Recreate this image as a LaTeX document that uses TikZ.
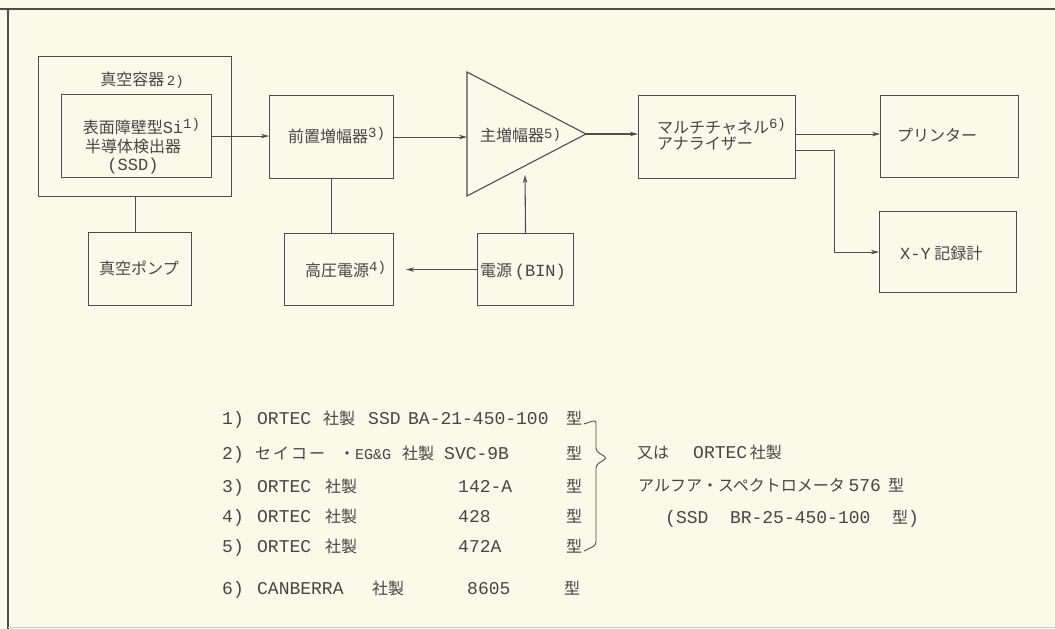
\documentclass[tikz,border=0pt]{standalone}
\usepackage{fontspec}
\setmainfont{Noto Sans CJK JP}
\newfontfamily\monofam{Liberation Mono}
\usetikzlibrary{arrows.meta,calc}
\definecolor{bgc}{RGB}{251,249,234}
\definecolor{ink}{RGB}{78,78,72}
\definecolor{txt}{RGB}{70,70,66}
\newcommand\lat[1]{{\monofam\fontsize{17}{17}\selectfont #1}}
\newcommand\latl[1]{{\monofam\fontsize{18}{18}\selectfont #1}}
\newcommand\sml[1]{{\monofam\fontsize{14}{14}\selectfont #1}}
\newcommand\supr[1]{\raisebox{5pt}{\sml{#1}}}
\newcommand\putat[2]{\makebox[0pt][l]{\hspace*{#1}#2}}
\begin{document}
\begin{tikzpicture}[x=1pt,y=-1pt,
  box/.style={draw=ink,line width=1.1pt,inner sep=0pt},
  lbl/.style={text=txt,inner sep=0pt,font=\fontsize{16}{19}\selectfont,text height=13pt,text depth=1pt},
  arr/.style={draw=ink,line width=1.1pt,-{Stealth[length=8pt,width=4.5pt]}},
  ln/.style={draw=ink,line width=1.1pt}]
\useasboundingbox (0,0) rectangle (1055,629);
\fill[bgc] (0,0) rectangle (1055,629);
% frame
\draw[ln] (0,9) -- (1055,9);
\draw[ln] (8,9) -- (8,629);
\draw[draw=ink!30,line width=0.8pt] (8,627) -- (1055,627);
% boxes
\node[box,anchor=north west,minimum width=193pt,minimum height=140pt] (vac) at (38,56) {};
\node[box,anchor=north west,minimum width=150pt,minimum height=83pt] (ssd) at (61,94) {};
\node[box,anchor=north west,minimum width=103pt,minimum height=73pt] (pump) at (88,232) {};
\node[box,anchor=north west,minimum width=124pt,minimum height=83pt] (pre) at (269,95) {};
\node[box,anchor=north west,minimum width=109pt,minimum height=72pt] (hv) at (284,233) {};
\node[box,anchor=north west,minimum width=96pt,minimum height=72pt] (bin) at (477,233) {};
\node[box,anchor=north west,minimum width=157pt,minimum height=83pt] (mca) at (638,95) {};
\node[box,anchor=north west,minimum width=138pt,minimum height=82pt] (prn) at (880,95) {};
\node[box,anchor=north west,minimum width=137pt,minimum height=81pt] (xy) at (879,211) {};
% triangle (main amplifier)
\coordinate (tl) at (467,72);
\coordinate (ta) at (586,134);
\coordinate (tb) at (467,196);
\draw[ln,line join=miter] (tl) -- (ta) -- (tb) -- cycle;
% labels
\node[lbl] (vact) at (142,79) {真空容器\,\sml{2)}};
\node[lbl] (ssd1) at (133,127) {表面障壁型\lat{Si}\rlap{\supr{1)}}};
\node[lbl] (ssd2) at (133,146) {半導体検出器};
\node[lbl] (ssd3) at (133,164) {\lat{(SSD)}};
\node[lbl] (pumpt) at (139,268) {真空ポンプ};
\node[lbl,anchor=west] (pret) at (288,136) {前置増幅器\supr{3)}};
\node[lbl,anchor=west] (ampt) at (480,135) {主増幅器\raisebox{3pt}{\sml{5)}}};
\node[lbl,anchor=west] (hvt) at (305,270) {高圧電源\supr{4)}};
\node[lbl,anchor=west] (bint) at (480,270) {電源\,\lat{(BIN)}};
\node[lbl,anchor=west] (mca1) at (657,127) {マルチチャネル\supr{6)}};
\node[lbl,anchor=west] (mca2) at (657,143) {アナライザー};
\node[lbl,anchor=west] (prnt) at (897,135) {プリンター};
\node[lbl,anchor=west] (xyt) at (900,253) {\lat{X-Y}\ 記録計};
% connectors
\draw[arr] (ssd.east) -- (ssd.east -| pre.west);
\draw[ln] (vac.south) -- (vac.south |- pump.north);
\draw[arr] (pre.east) -- (pre.east -| tl);
\draw[ln] (pre.south) -- (pre.south |- hv.north);
\coordinate (ampin) at (525,175);
\draw[arr] (bin.north) -- (ampin);
\draw[arr] (bin.west) -- ([xshift=12pt]hv.east |- bin.west);
\draw[arr] (ta) -- (ta -| mca.west);
\draw[arr] ([yshift=3pt]mca.east) -- ([yshift=3pt]mca.east -| prn.west);
\draw[arr] ([yshift=-13pt]mca.east) -- ++(38,0) |- (xy.west);
% parts list
\node[lbl,anchor=west] (l1) at (222,418) {\putat{0pt}{\latl{1)}}\putat{35pt}{\latl{ORTEC}}\putat{101pt}{社製}\putat{146pt}{\latl{SSD}}\putat{186pt}{\latl{BA-21-450-100}}\putat{344pt}{型}\hspace*{360pt}};
\node[lbl,anchor=west] (l2) at (222,453) {\putat{0pt}{\latl{2)}}\putat{33pt}{セ\kern2ptイ\kern2ptコ\kern2ptー}\putat{117pt}{・}\putat{133pt}{{\monofam\fontsize{15}{15}\selectfont EG\&G}}\putat{180pt}{社製}\putat{222pt}{\latl{SVC-9B}}\putat{344pt}{型}\hspace*{360pt}};
\node[lbl,anchor=west] (l3) at (222,486) {\putat{0pt}{\latl{3)}}\putat{35pt}{\latl{ORTEC}}\putat{103pt}{社製}\putat{236pt}{\latl{142-A}}\putat{344pt}{型}\hspace*{360pt}};
\node[lbl,anchor=west] (l4) at (222,516) {\putat{0pt}{\latl{4)}}\putat{35pt}{\latl{ORTEC}}\putat{103pt}{社製}\putat{236pt}{\latl{428}}\putat{344pt}{型}\hspace*{360pt}};
\node[lbl,anchor=west] (l5) at (222,546) {\putat{0pt}{\latl{5)}}\putat{35pt}{\latl{ORTEC}}\putat{103pt}{社製}\putat{236pt}{\latl{472A}}\putat{344pt}{型}\hspace*{360pt}};
\node[lbl,anchor=west] (l6) at (222,588) {\putat{0pt}{\latl{6)}}\putat{35pt}{\latl{CANBERRA}}\putat{150pt}{社製}\putat{245pt}{\latl{8605}}\putat{342pt}{型}\hspace*{360pt}};
% brace
\draw[ln,line width=0.9pt,rounded corners=3pt] (584,424) -- (596,420) -- (596,451) -- (607,458) -- (596,465) -- (596,545) -- (584,551);
% alternative
\node[lbl,anchor=west] (r1) at (637,452) {又は\hspace{24pt}\latl{ORTEC}\,社製};
\node[lbl,anchor=west] (r2) at (638,485) {アルフア・スペクトロメータ\ \latl{576}\ \ 型};
\node[lbl,anchor=west] (r3) at (665,517) {\latl{(SSD\ \ BR-25-450-100\ \ }型\latl{)}};
\end{tikzpicture}
\end{document}
